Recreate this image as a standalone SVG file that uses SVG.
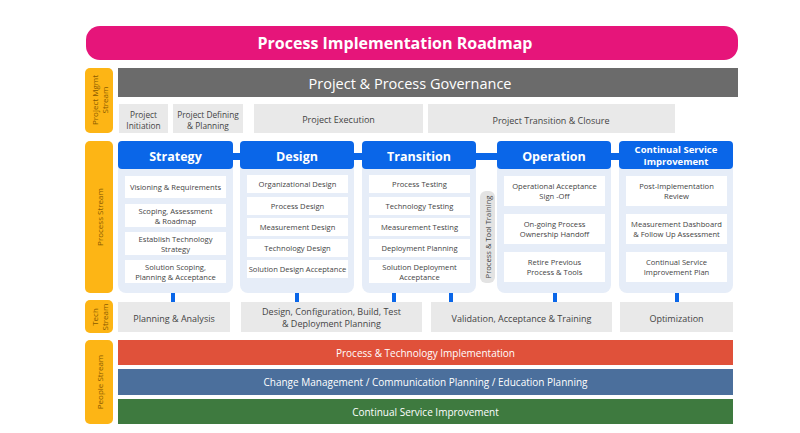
<svg xmlns="http://www.w3.org/2000/svg" width="800" height="433" viewBox="0 0 800 433">
<style>
text{font-family:"Open Sans","Noto Sans","Liberation Sans",sans-serif;text-anchor:middle;dominant-baseline:central}
.side{fill:#FDB515}
.st{fill:#8a5a00;font-size:8px}
.g{fill:#e9e9e9}
.gt{fill:#444;font-size:9px}
.gs{fill:#444;font-size:8.3px}
.col{fill:#e6edf8}
.hd{fill:#0A66E8}
.ht{fill:#fff;font-size:12.5px;font-weight:bold}
.it{fill:#fff}
.itt{fill:#444;font-size:7.6px}
.tick{fill:#0A66E8}
.bt{fill:#fff;font-size:10px}
</style>
<rect width="800" height="433" fill="#fff"/>
<g id="title"><rect x="86" y="26" width="652" height="34" rx="14" fill="#E6157A"/><text x="395" y="43" fill="#fff" font-size="16" font-weight="bold">Process Implementation Roadmap</text></g>
<g id="side-labels">
<rect class="side" x="85" y="68" width="28" height="65" rx="5"/><text class="st" transform="translate(99,100) rotate(-90)"><tspan x="0" dy="-5">Project  Mgmt</tspan><tspan x="0" dy="10">Stream</tspan></text>
<rect class="side" x="85" y="141" width="28" height="152" rx="5"/><text class="st" transform="translate(99,217) rotate(-90)">Process Stream</text>
<rect class="side" x="85" y="300" width="28" height="33" rx="5"/><text class="st" transform="translate(99,317) rotate(-90)"><tspan x="0" dy="-5">Tech</tspan><tspan x="0" dy="10">Stream</tspan></text>
<rect class="side" x="85" y="340" width="28" height="84" rx="5"/><text class="st" transform="translate(99,382) rotate(-90)">People Stream</text>
</g>
<g id="governance"><rect x="118" y="68" width="620" height="29" fill="#6b6b6b"/><text x="410" y="83" fill="#fff" font-size="14.5">Project &amp; Process Governance</text></g>
<g id="pm-row">
<rect class="g" x="119" y="104" width="49" height="29"/><text class="gs" x="143.5" y="114">Project</text><text class="gs" x="143.5" y="125">Initiation</text>
<rect class="g" x="173" y="104" width="70" height="29"/><text class="gs" x="208" y="114">Project Defining</text><text class="gs" x="208" y="125">&amp; Planning</text>
<rect class="g" x="254" y="104" width="169" height="29"/><text class="gt" x="338.5" y="119">Project Execution</text>
<rect class="g" x="428" y="104" width="247" height="29"/><text class="gt" x="551" y="120">Project Transition &amp; Closure</text>
</g>
<g id="connectors">
<rect class="tick" x="230" y="153" width="14" height="7"/>
<rect class="tick" x="350" y="153" width="16" height="7"/>
<rect class="tick" x="472" y="153" width="29" height="7"/>
<rect class="tick" x="607" y="153" width="16" height="7"/>
<rect class="tick" x="171" y="293" width="4" height="9"/>
<rect class="tick" x="295" y="293" width="4" height="9"/>
<rect class="tick" x="392" y="293" width="4" height="9"/>
<rect class="tick" x="449" y="293" width="4" height="9"/>
<rect class="tick" x="553" y="293" width="4" height="9"/>
<rect class="tick" x="675" y="293" width="4" height="9"/>
</g>
<g id="strategy">
<rect class="col" x="118" y="141" width="115" height="152" rx="8"/><rect class="hd" x="118" y="141" width="115" height="28" rx="4"/><text class="ht" x="175.5" y="156">Strategy</text>
<rect class="it" x="125" y="176" width="101" height="22"/><text class="itt" x="175.5" y="187">Visioning &amp; Requirements</text>
<rect class="it" x="125" y="204" width="101" height="23"/><text class="itt" x="175.5" y="215.5"><tspan x="175.5" dy="-5">Scoping, Assessment</tspan><tspan x="175.5" dy="10">&amp; Roadmap</tspan></text>
<rect class="it" x="125" y="232" width="101" height="23"/><text class="itt" x="175.5" y="243.5"><tspan x="175.5" dy="-5">Establish Technology</tspan><tspan x="175.5" dy="10">Strategy</tspan></text>
<rect class="it" x="125" y="260" width="101" height="23"/><text class="itt" x="175.5" y="271.5"><tspan x="175.5" dy="-5">Solution Scoping,</tspan><tspan x="175.5" dy="10">Planning &amp; Acceptance</tspan></text>
</g>
<g id="design">
<rect class="col" x="240" y="141" width="114" height="152" rx="8"/><rect class="hd" x="240" y="141" width="114" height="28" rx="4"/><text class="ht" x="297" y="156">Design</text>
<rect class="it" x="247" y="175" width="101" height="18"/><text class="itt" x="297.5" y="184">Organizational Design</text>
<rect class="it" x="247" y="197" width="101" height="18"/><text class="itt" x="297.5" y="206">Process Design</text>
<rect class="it" x="247" y="218" width="101" height="18"/><text class="itt" x="297.5" y="227">Measurement Design</text>
<rect class="it" x="247" y="239" width="101" height="18"/><text class="itt" x="297.5" y="248">Technology Design</text>
<rect class="it" x="247" y="260" width="101" height="18"/><text class="itt" x="297.5" y="269">Solution Design Acceptance</text>
</g>
<g id="transition">
<rect class="col" x="362" y="141" width="114" height="152" rx="8"/><rect class="hd" x="362" y="141" width="114" height="28" rx="4"/><text class="ht" x="419" y="156">Transition</text>
<rect class="it" x="369" y="175" width="101" height="18"/><text class="itt" x="419.5" y="184">Process Testing</text>
<rect class="it" x="369" y="197" width="101" height="18"/><text class="itt" x="419.5" y="206">Technology Testing</text>
<rect class="it" x="369" y="218" width="101" height="18"/><text class="itt" x="419.5" y="227">Measurement Testing</text>
<rect class="it" x="369" y="239" width="101" height="18"/><text class="itt" x="419.5" y="248">Deployment Planning</text>
<rect class="it" x="369" y="260" width="101" height="23"/><text class="itt" x="419.5" y="271.5"><tspan x="419.5" dy="-5">Solution Deployment</tspan><tspan x="419.5" dy="10">Acceptance</tspan></text>
</g>
<g id="training"><rect x="480" y="191" width="15" height="92" rx="6" fill="#e3e3e3"/><text class="itt" transform="translate(488,237) rotate(-90)">Process &amp; Tool Training</text></g>
<g id="operation">
<rect class="col" x="497" y="141" width="114" height="152" rx="8"/><rect class="hd" x="497" y="141" width="114" height="28" rx="4"/><text class="ht" x="554" y="156">Operation</text>
<rect class="it" x="504" y="176" width="101" height="30"/><text class="itt" x="554.5" y="191"><tspan x="554.5" dy="-5">Operational Acceptance</tspan><tspan x="554.5" dy="10">Sign -Off</tspan></text>
<rect class="it" x="504" y="214" width="101" height="30"/><text class="itt" x="554.5" y="229"><tspan x="554.5" dy="-5">On-going Process</tspan><tspan x="554.5" dy="10">Ownership Handoff</tspan></text>
<rect class="it" x="504" y="252" width="101" height="30"/><text class="itt" x="554.5" y="267"><tspan x="554.5" dy="-5">Retire Previous</tspan><tspan x="554.5" dy="10">Process &amp; Tools</tspan></text>
</g>
<g id="csi">
<rect class="col" x="619" y="141" width="114" height="152" rx="8"/><rect class="hd" x="619" y="141" width="114" height="28" rx="4"/><text fill="#fff" font-size="9.5" font-weight="bold" x="676" y="155"><tspan x="676" dy="-6">Continual Service</tspan><tspan x="676" dy="12">Improvement</tspan></text>
<rect class="it" x="626" y="176" width="101" height="30"/><text class="itt" x="676.5" y="191"><tspan x="676.5" dy="-5">Post-Implementation</tspan><tspan x="676.5" dy="10">Review</tspan></text>
<rect class="it" x="626" y="214" width="101" height="30"/><text class="itt" x="676.5" y="229"><tspan x="676.5" dy="-5">Measurement Dashboard</tspan><tspan x="676.5" dy="10">&amp; Follow Up Assessment</tspan></text>
<rect class="it" x="626" y="252" width="101" height="30"/><text class="itt" x="676.5" y="267"><tspan x="676.5" dy="-5">Continual Service</tspan><tspan x="676.5" dy="10">Improvement Plan</tspan></text>
</g>
<g id="tech-row">
<rect class="g" x="118" y="302" width="112" height="30"/><text class="gt" x="174" y="318">Planning &amp; Analysis</text>
<rect class="g" x="241" y="302" width="181" height="30"/><text class="gt" x="331.5" y="311">Design, Configuration, Build, Test</text><text class="gt" x="331.5" y="323">&amp; Deployment Planning</text>
<rect class="g" x="431" y="302" width="181" height="30"/><text class="gt" x="521.5" y="318">Validation, Acceptance &amp; Training</text>
<rect class="g" x="620" y="302" width="113" height="30"/><text class="gt" x="676.5" y="318">Optimization</text>
</g>
<g id="people">
<rect x="118" y="340" width="615" height="25" fill="#E0513A"/><text class="bt" x="425.5" y="353">Process &amp; Technology Implementation</text>
<rect x="118" y="369" width="615" height="26" fill="#4B6F9C"/><text class="bt" x="425.5" y="382">Change Management / Communication  Planning / Education Planning</text>
<rect x="118" y="399" width="615" height="25" fill="#3E7A3F"/><text class="bt" x="425.5" y="411.5">Continual Service Improvement</text>
</g>
</svg>
